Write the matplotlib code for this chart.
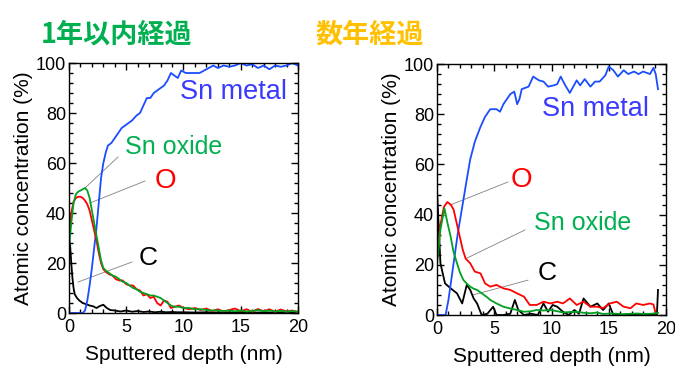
import matplotlib
matplotlib.use('Agg')
import matplotlib.pyplot as plt
from matplotlib.ticker import MultipleLocator

plt.rcParams['font.family'] = ['Liberation Sans', 'DejaVu Sans']

# ---- panel titles ----
title_left = '1年以内経過'
title_right = '数年経過'

# ---- left panel: < 1 year ----
l_metal_x = [0, 1.2, 1.4, 1.6, 1.8, 2.0, 2.2, 2.4, 2.6, 2.8, 3.0, 3.2, 3.4, 3.7, 4.0, 4.3, 4.6, 4.9, 5.2, 5.5,
             5.9, 6.2, 6.5, 6.8, 7.1, 7.4, 7.7, 8.0, 8.3, 8.6, 8.9, 9.2, 9.5, 9.8, 10.2, 10.6, 11.0, 11.4, 11.8,
             12.2, 12.6, 13.0, 13.5, 14.0, 14.5, 15.0, 15.5, 16.0, 16.5, 17.0, 17.5, 18.0, 18.5, 19.0, 19.5, 20.0]
l_metal_y = [0, 0, 1, 5, 11, 18, 26, 34, 44, 54, 60, 64, 67, 68, 70, 72, 74, 75, 76, 77,
             79, 80, 83, 86, 86, 88, 89, 90, 91, 93, 96, 95, 94, 97, 96, 96, 96, 96, 97,
             98, 99, 98, 99, 98.5, 99, 100, 99, 99.5, 98, 99, 97.5, 99, 98.5, 99, 100, 99]

l_x = [0, 0.2, 0.4, 0.6, 0.8, 1.0, 1.2, 1.4, 1.6, 1.8, 2.0, 2.2, 2.4, 2.6, 2.8, 3.0, 3.2, 3.5, 3.8, 4.1,
       4.4, 4.7, 5.0, 5.3, 5.6, 5.9, 6.2, 6.5, 6.8, 7.1, 7.4, 7.7, 8.0, 8.3, 8.6, 8.9, 9.2, 9.6, 10.0, 10.5,
       11.0, 11.5, 12.0, 12.5, 13.0, 13.5, 14.0, 14.5, 15.0, 15.5, 16.0, 16.5, 17.0, 17.5, 18.0, 18.5, 19.0,
       19.5, 20.0]
l_oxide_y = [26, 36, 44, 47.5, 48.5, 49, 49.5, 50, 49, 46, 41, 36, 31, 26, 21, 18, 17, 16, 15, 14.5,
             13.5, 12.5, 12, 11, 10, 9.5, 8.5, 8, 7.5, 7, 7, 6.5, 6, 5, 4, 3, 2.5, 2.5, 2, 2,
             1.5, 1.5, 1.2, 1, 1, 0.8, 1, 0.7, 1, 0.6, 0.8, 1.2, 0.7, 1, 0.6, 0.9, 0.5,
             0.8, 0.5]
l_o_y = [33, 40, 44.5, 46, 46.5, 46.5, 46, 45, 43.5, 41, 37, 33, 29, 24, 20, 17.5, 16.5, 15.5, 15, 13.5,
         13, 13, 11.5, 11, 11, 9.5, 9, 7, 7.5, 6, 6.5, 4, 3, 5, 4.5, 2, 2.5, 3, 2, 1.5,
         2, 1.2, 1.8, 0.8, 1.5, 0.6, 1.2, 1.8, 0.7, 1.5, 0.5, 1.6, 0.7, 1.5, 0.5, 1.4, 0.6,
         1, 0.4]

l_c_x = [0, 0.1, 0.2, 0.3, 0.4, 0.5, 0.7, 0.9, 1.2, 1.5, 1.8, 2.1, 2.4, 2.7, 3.0, 3.3, 3.6, 4.0, 4.5, 5.0,
         5.5, 6.0, 6.5, 7.0, 7.5, 8.0, 8.5, 9.0, 9.5, 10.0, 11, 12, 13, 14, 15, 16, 17, 18, 19, 20]
l_c_y = [30, 27, 20, 14, 10, 7.5, 6, 5, 4, 3.5, 3, 2.7, 2, 2.8, 3.3, 2, 1.2, 1, 0.6, 1,
         0.5, 0.8, 0.4, 0.6, 0.3, 0.5, 0.3, 0.4, 0.3, 0.3, 0.2, 0.3, 0.2, 0.2, 0.3, 0.2, 0.2, 0.2, 0.3, 0.2]

# ---- right panel: several years ----
r_metal_x = [0, 0.75, 1.0, 1.45, 1.8, 2.2, 2.6, 2.9, 3.3, 3.8, 4.2, 4.65, 5.0, 5.2, 5.5, 5.8, 6.1, 6.4, 6.75, 7.0,
             7.2, 7.4, 7.7, 8.0, 8.4, 8.9, 9.3, 9.7, 10.2, 10.5, 10.8, 11.2, 11.6, 12.2, 12.5, 12.9, 13.4, 13.8,
             14.2, 14.7, 15.0, 15.4, 15.8, 16.3, 16.7, 17.2, 17.6, 18.0, 18.6, 18.9, 19.1, 19.3]
r_metal_y = [0, 0, 6, 20.6, 32, 43, 54, 62, 69, 75, 79, 82, 82, 82, 81, 84, 86, 88, 89, 84,
             86, 90, 90.5, 91, 95, 93.5, 93, 91, 91.5, 92, 95, 91.5, 88.5, 93.5, 91.5, 94, 91, 93,
             93, 95.5, 99, 97.5, 95, 97.5, 96, 97, 96, 97, 96, 98.5, 96, 90]

r_o_x = [0, 0.3, 0.6, 0.9, 1.2, 1.45, 1.7, 2.0, 2.25, 2.5, 2.9, 3.3, 3.8, 4.2, 4.65, 5.2, 5.8, 6.4, 7.0, 7.6,
         8.1, 8.7, 9.3, 9.9, 10.5, 11.0, 11.6, 12.2, 12.8, 13.4, 14.0, 14.5, 15.1, 15.7, 16.3, 16.9, 17.4,
         18.0, 18.6, 18.9, 19.1]
r_o_y = [22, 36, 43, 45, 44, 42, 37, 31, 26, 22.5, 20.6, 17.3, 16.6, 12.6, 11.3, 12, 10.6, 10, 8.6, 7.3,
         4, 4, 5.3, 4.6, 5.3, 4.6, 6.6, 4, 5.3, 3.3, 3.3, 2.7, 4.6, 5.3, 3.3, 2.7, 4.6,
         4, 4.6, 4.2, 0.6]

r_oxide_x = [0, 0.3, 0.65, 0.9, 1.2, 1.45, 1.75, 2.0, 2.3, 2.6, 2.9, 3.2, 3.5, 3.8, 4.1, 4.4, 4.65, 5.2, 5.8,
             6.4, 7.0, 7.6, 8.2, 8.7, 9.3, 9.9, 10.5, 11.0, 11.6, 12.2, 12.8, 13.4, 14.0, 14.5, 15.1, 15.7,
             16.3, 16.9, 17.5, 18.1, 18.7, 19.3]
r_oxide_y = [20, 34, 42.5, 37, 31, 25, 20.6, 17, 14, 12.5, 11.3, 10.5, 10, 9, 8, 7, 6, 4.6, 3.3,
             2.6, 2, 1.3, 1.5, 2, 1.8, 2, 1.5, 1, 1.2, 1.3, 0.9, 0.7, 1, 0.4, 0.6, 0.5,
             0.3, 0.5, 0.6, 0.4, 0.5, 0.8]

r_c_x = [0, 0.3, 0.7, 1.2, 1.75, 2.2, 2.6, 2.9, 3.2, 3.5, 3.9, 4.4, 4.9, 5.2, 5.8, 6.4, 6.8, 7.1, 7.6, 8.2,
         8.8, 9.3, 9.7, 10.1, 10.5, 11.0, 11.5, 12.0, 12.4, 12.8, 13.4, 14.0, 14.5, 15.0, 15.4, 16.0, 16.6,
         17.2, 17.8, 18.4, 19.0, 19.2, 19.3]
r_c_y = [50, 20.6, 12.6, 10.6, 8.6, 4.6, 12, 10, 6.6, 4.6, 0, 0.5, 3.3, 0, 0, 0.5, 6, 2, 0, 0.5,
         0, 4.6, 1.3, 4, 3.3, 1.3, 0, 2, 0.5, 6.6, 3.3, 4.6, 2, 4.6, 0, 0, 0.3,
         0, 0, 0.3, 0, 0, 10]

BLUE = '#1a4dff'
RED = '#ff0000'
GREEN = '#00a020'
LBL_BLUE = '#3a3aff'
LBL_GREEN = '#00b050'


def style_axes(ax):
    ax.set_xlim(0, 20)
    ax.set_ylim(0, 100)
    ax.xaxis.set_major_locator(MultipleLocator(5))
    ax.xaxis.set_minor_locator(MultipleLocator(1))
    ax.yaxis.set_major_locator(MultipleLocator(20))
    ax.yaxis.set_minor_locator(MultipleLocator(4))
    ax.tick_params(which='both', direction='in', top=True, right=True, width=1.0, labelsize=13)
    ax.tick_params(axis='x', pad=4)
    ax.tick_params(axis='y', pad=2)
    ax.tick_params(which='major', length=5)
    ax.tick_params(which='minor', length=3)
    for s in ax.spines.values():
        s.set_linewidth(1.0)
    ax.set_xlabel('Sputtered depth (nm)', fontsize=15, labelpad=7)
    ax.set_ylabel('Atomic concentration (%)', fontsize=15, labelpad=2)


def leader(ax, p0, p1):
    ax.plot([p0[0], p1[0]], [p0[1], p1[1]], color='#808080', lw=0.6, zorder=1)


fig = plt.figure(figsize=(6.75, 3.72), dpi=100)
ax1 = fig.add_axes([0.1022, 0.1586, 0.3393, 0.672])
ax2 = fig.add_axes([0.6474, 0.1532, 0.3393, 0.6747])

lw = 1.3
# left
ax1.plot(l_c_x, l_c_y, color='black', lw=lw)
ax1.plot(l_metal_x, l_metal_y, color=BLUE, lw=lw)
ax1.plot(l_x, l_o_y, color=RED, lw=lw)
ax1.plot(l_x, l_oxide_y, color=GREEN, lw=lw)
style_axes(ax1)
ax1.text(14.4, 88.4, 'Sn metal', color=LBL_BLUE, fontsize=19.5, ha='center', va='center')
ax1.text(9.1, 66.4, 'Sn oxide', color=LBL_GREEN, fontsize=18, ha='center', va='center')
ax1.text(8.4, 52.8, 'O', color=RED, fontsize=20, ha='center', va='center')
ax1.text(6.9, 22, 'C', color='black', fontsize=19, ha='center', va='center')
leader(ax1, (4.28, 62.4), (1.40, 50))
leader(ax1, (6.64, 52.8), (1.83, 44))
leader(ax1, (5.5, 20.4), (0.79, 12.4))

# right
ax2.plot(r_c_x, r_c_y, color='black', lw=lw)
ax2.plot(r_metal_x, r_metal_y, color=BLUE, lw=lw)
ax2.plot(r_o_x, r_o_y, color=RED, lw=lw)
ax2.plot(r_oxide_x, r_oxide_y, color=GREEN, lw=lw)
style_axes(ax2)
ax2.text(13.8, 82, 'Sn metal', color=LBL_BLUE, fontsize=19.5, ha='center', va='center')
ax2.text(12.7, 36.7, 'Sn oxide', color=LBL_GREEN, fontsize=18, ha='center', va='center')
ax2.text(7.4, 53.8, 'O', color=RED, fontsize=20, ha='center', va='center')
ax2.text(9.6, 16.7, 'C', color='black', fontsize=19, ha='center', va='center')
leader(ax2, (6.2, 53), (1.14, 43.8))
leader(ax2, (7.69, 33.9), (2.62, 22.7))
leader(ax2, (7.95, 13.9), (3.14, 8))

cjk = ['Noto Sans CJK JP', 'DejaVu Sans']
fig.text(0.172, 0.908, title_left, color='#00b050', fontsize=19.5, fontweight='bold',
         family=cjk, ha='center', va='center')
fig.text(0.548, 0.908, title_right, color='#ffc000', fontsize=19.5, fontweight='bold',
         family=cjk, ha='center', va='center')

fig.savefig('out.png', dpi=100)
